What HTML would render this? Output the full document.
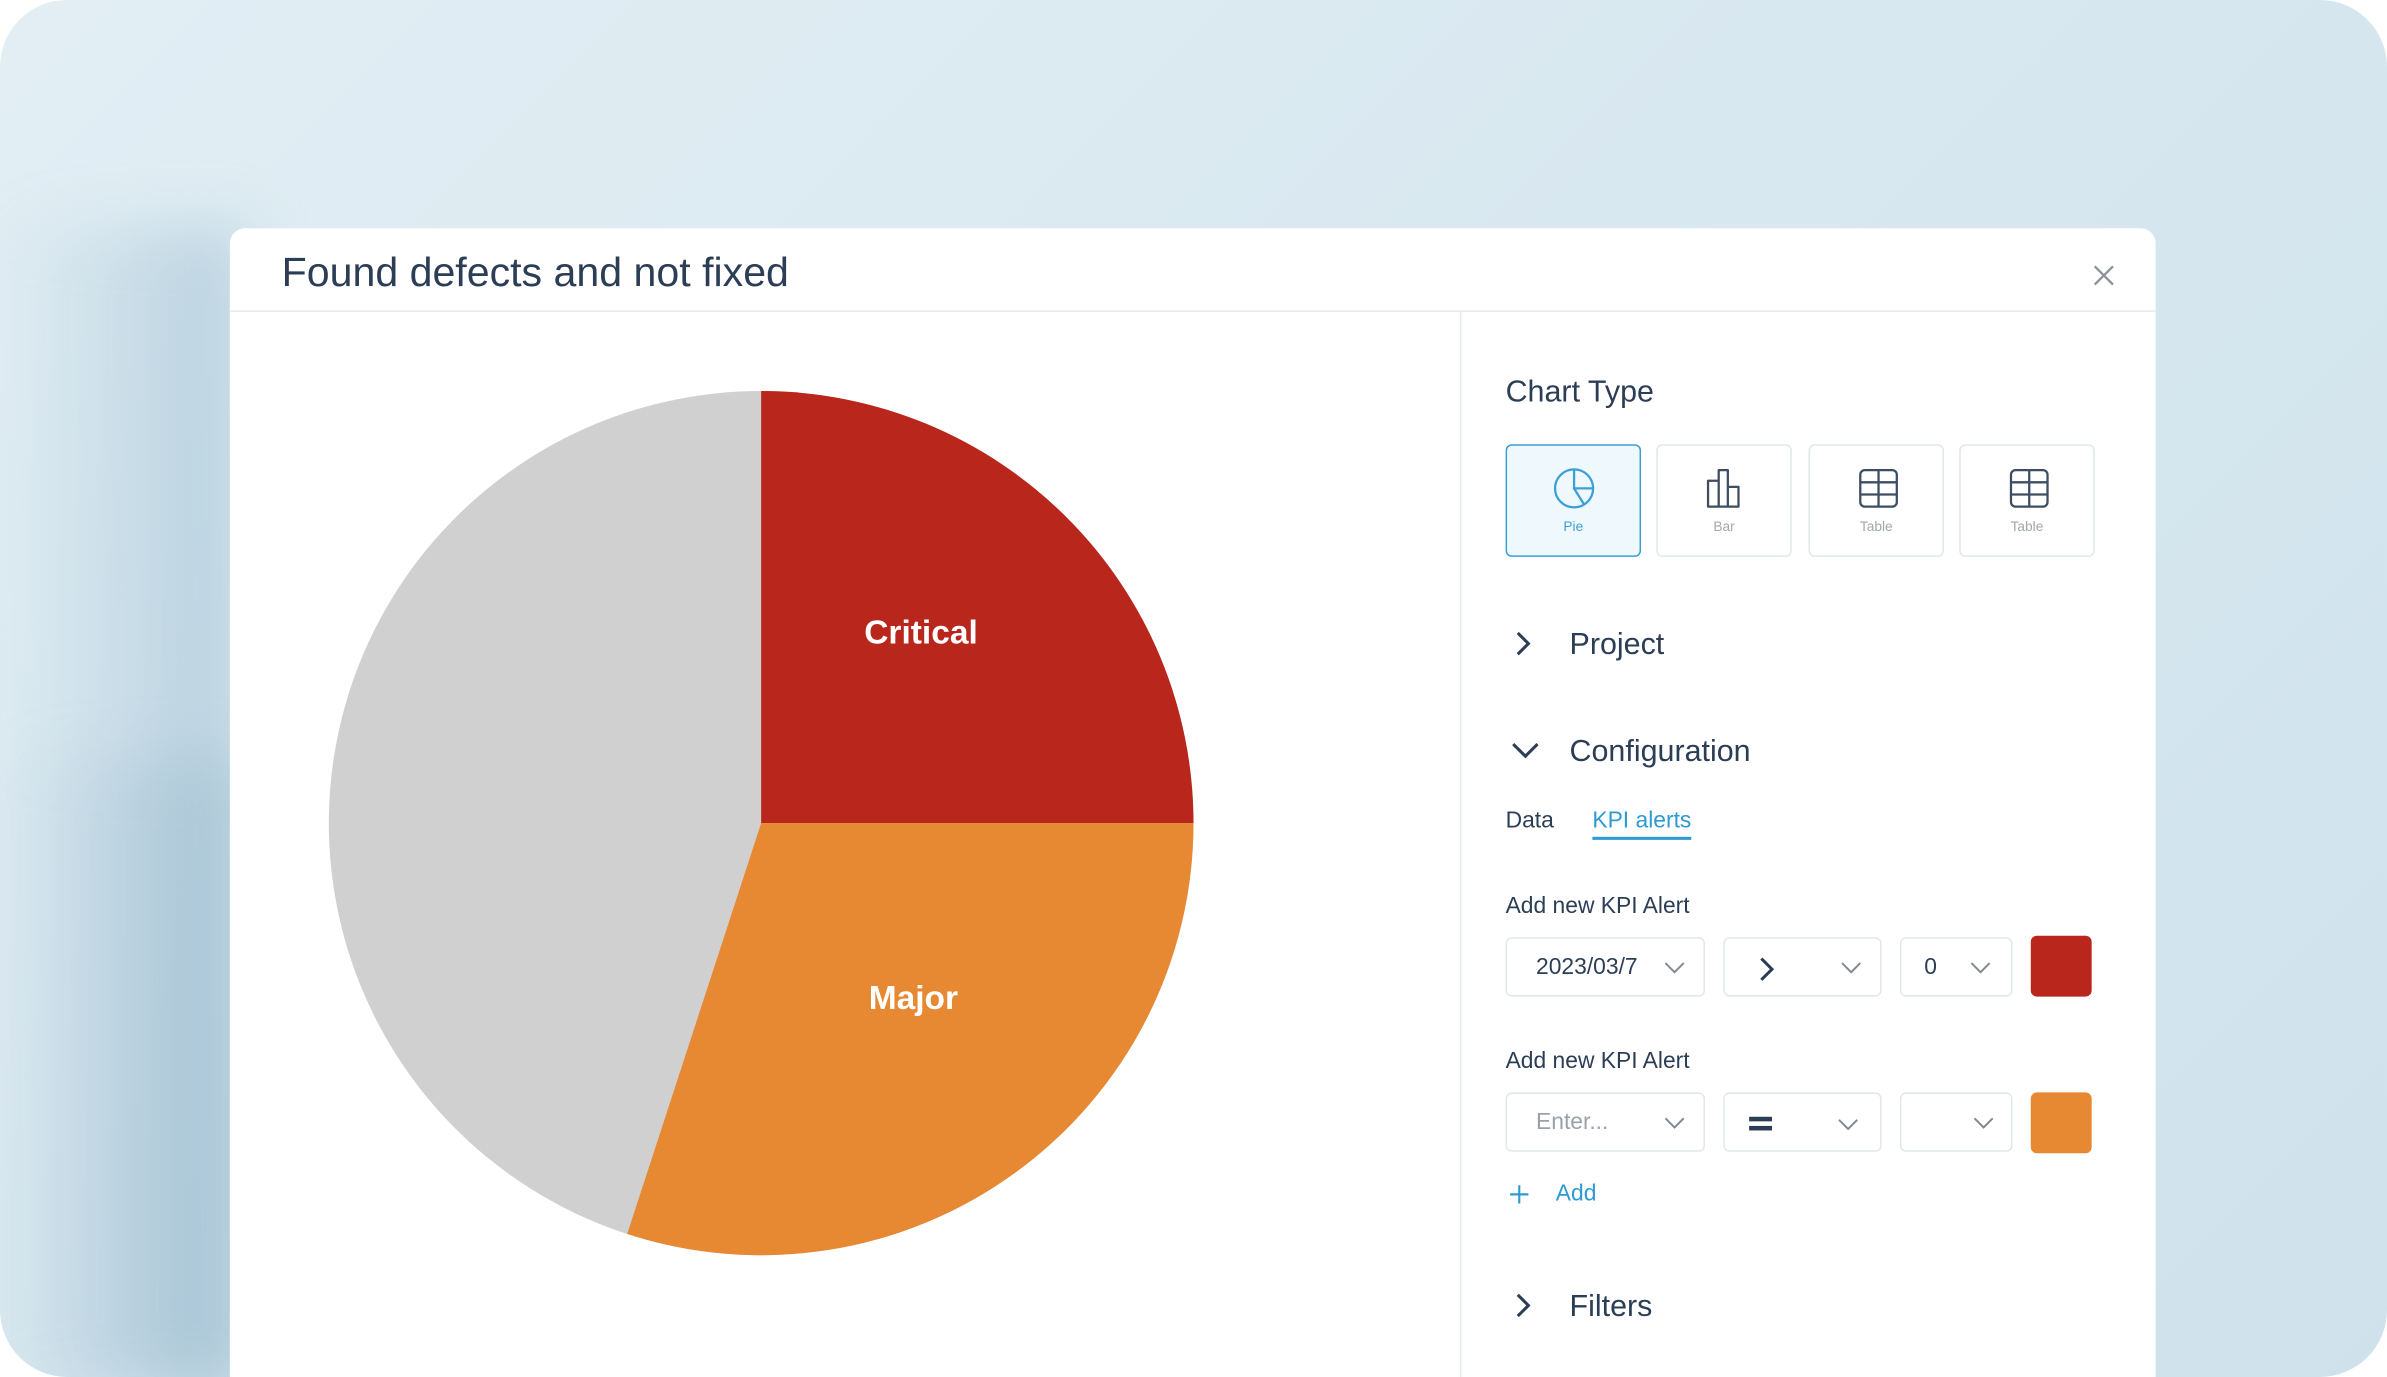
<!DOCTYPE html>
<html><head><meta charset="utf-8"><style>
html,body{margin:0;padding:0;background:#fff;}
body{width:2387px;height:1377px;overflow:hidden;}
#s{width:1568px;height:905px;transform:scale(1.52232,1.5215);transform-origin:0 0;position:relative;font-family:"Liberation Sans",sans-serif;color:#2c3e55;}
.bg{position:absolute;left:0;top:0;width:1568px;height:905px;border-radius:44px;overflow:hidden;background:linear-gradient(135deg,#e2eef4 0%,#d8e8f0 50%,#cfe2ec 100%);}
.sh{position:absolute;left:0;top:150px;width:160px;height:760px;background:linear-gradient(90deg,rgba(150,185,205,0) 0%,rgba(150,185,205,.55) 100%);filter:blur(20px);}
.sh2{position:absolute;left:0;top:500px;width:160px;height:420px;background:linear-gradient(90deg,rgba(140,175,198,0) 0%,rgba(140,175,198,.4) 100%);filter:blur(20px);}
.card{position:absolute;left:151px;top:150px;width:1265px;height:760px;background:#fff;border-radius:10px 10px 0 0;}
.abs{position:absolute;}
.box{position:absolute;border:1px solid #e1e7ea;border-radius:4px;background:#fff;box-sizing:border-box;}
.lbl{font-size:9px;color:#a0a7ad;position:absolute;width:100%;text-align:center;top:48px;}
.dd{position:absolute;top:14px;}
</style></head><body><div id="s">
<div class="bg"><div class="sh"></div><div class="sh2"></div>
<div class="card">
 <div class="abs" style="left:34px;top:14px;font-size:27px;color:#2c3e55;">Found defects and not fixed</div>
 <svg class="abs" style="left:1224px;top:24px" width="14" height="14"><path d="M1 1L13 13M13 1L1 13" stroke="#8a939a" stroke-width="1.5"/></svg>
 <div class="abs" style="left:0;top:54px;width:1265px;height:1px;background:#e6eaec"></div>
 <div class="abs" style="left:808px;top:55px;width:1px;height:710px;background:#e6eaec"></div>
 <svg class="abs" style="left:0;top:0" width="808" height="760">
  <g transform="translate(349,391)">
   <circle r="284" fill="#d0d0d0"/>
   <path d="M0 0L0 -284A284 284 0 0 1 284 0Z" fill="#b9261c"/>
   <path d="M0 0L284 0A284 284 0 0 1 -88 270Z" fill="#e78832"/>
   <text x="105" y="-118" font-size="22" font-weight="600" fill="#fff" text-anchor="middle" font-family="Liberation Sans">Critical</text>
   <text x="100" y="122" font-size="22" font-weight="600" fill="#fff" text-anchor="middle" font-family="Liberation Sans">Major</text>
  </g>
 </svg>
 <div class="abs" style="left:838px;top:97px;font-size:20px;">Chart Type</div>
 <div class="box" style="left:838px;top:142px;width:89px;height:74px;border:1.5px solid #3aa0d6;background:#eff8fd;">
  <svg class="abs" style="left:30px;top:14px" width="28" height="28"><circle cx="14" cy="14" r="12.5" fill="none" stroke="#3aa0d6" stroke-width="1.5"/><path d="M14 1.5V14H26.5M14 14L20.5 24.5" fill="none" stroke="#3aa0d6" stroke-width="1.5"/></svg>
  <div class="lbl" style="color:#3aa0d6">Pie</div></div>
 <div class="box" style="left:937px;top:142px;width:89px;height:74px;">
  <svg class="abs" style="left:31px;top:14px" width="28" height="28"><path d="M2 9H9V26H2ZM9 2H15V26H9ZM15 13H22V26H15Z" fill="none" stroke="#3d4e63" stroke-width="1.5" stroke-linejoin="round"/></svg>
  <div class="lbl">Bar</div></div>
 <div class="box" style="left:1037px;top:142px;width:89px;height:74px;">
  <svg class="abs" style="left:31px;top:14px" width="28" height="28"><rect x="2" y="2" width="24" height="24" rx="3" fill="none" stroke="#3d4e63" stroke-width="1.5"/><path d="M2 10H26M2 18H26M14 2V26" stroke="#3d4e63" stroke-width="1.5"/></svg>
  <div class="lbl">Table</div></div>
 <div class="box" style="left:1136px;top:142px;width:89px;height:74px;">
  <svg class="abs" style="left:31px;top:14px" width="28" height="28"><rect x="2" y="2" width="24" height="24" rx="3" fill="none" stroke="#3d4e63" stroke-width="1.5"/><path d="M2 10H26M2 18H26M14 2V26" stroke="#3d4e63" stroke-width="1.5"/></svg>
  <div class="lbl">Table</div></div>
 <svg class="abs" style="left:843px;top:264px" width="14" height="18"><path d="M3 2L10 9L3 16" fill="none" stroke="#2c3e55" stroke-width="2"/></svg>
 <div class="abs" style="left:880px;top:263px;font-size:20px;">Project</div>
 <svg class="abs" style="left:841px;top:336px" width="20" height="14"><path d="M2 3L10 11L18 3" fill="none" stroke="#2c3e55" stroke-width="2"/></svg>
 <div class="abs" style="left:880px;top:333px;font-size:20px;">Configuration</div>
 <div class="abs" style="left:838px;top:381px;font-size:15px;">Data</div>
 <div class="abs" style="left:895px;top:381px;font-size:15px;color:#2d9ad2;">KPI alerts</div>
 <div class="abs" style="left:895px;top:400px;width:65px;height:2px;background:#2d9ad2"></div>
 <div class="abs" style="left:838px;top:437px;font-size:15px;">Add new KPI Alert</div>
 <div class="box" style="left:838px;top:466px;width:131px;height:39px;"><div class="abs" style="left:19px;top:10px;font-size:15px;">2023/03/7</div><svg class="dd" style="left:103px" width="14" height="10"><path d="M1 2L7 8L13 2" fill="none" stroke="#7f8a93" stroke-width="1.3"/></svg></div>
 <div class="box" style="left:981px;top:466px;width:104px;height:39px;"><svg class="abs" style="left:22px;top:11px" width="12" height="18"><path d="M2 2L9 9L2 16" fill="none" stroke="#2c3e55" stroke-width="2"/></svg><svg class="dd" style="left:76px" width="14" height="10"><path d="M1 2L7 8L13 2" fill="none" stroke="#7f8a93" stroke-width="1.3"/></svg></div>
 <div class="box" style="left:1097px;top:466px;width:74px;height:39px;"><div class="abs" style="left:15px;top:10px;font-size:15px;">0</div><svg class="dd" style="left:45px" width="14" height="10"><path d="M1 2L7 8L13 2" fill="none" stroke="#7f8a93" stroke-width="1.3"/></svg></div>
 <div class="abs" style="left:1183px;top:465px;width:40px;height:40px;border-radius:4px;background:#b9261c"></div>
 <div class="abs" style="left:838px;top:539px;font-size:15px;">Add new KPI Alert</div>
 <div class="box" style="left:838px;top:568px;width:131px;height:39px;"><div class="abs" style="left:19px;top:10px;font-size:15px;color:#9aa2a9">Enter...</div><svg class="dd" style="left:103px" width="14" height="10"><path d="M1 2L7 8L13 2" fill="none" stroke="#7f8a93" stroke-width="1.3"/></svg></div>
 <div class="box" style="left:981px;top:568px;width:104px;height:39px;"><div class="abs" style="left:16px;top:15px;width:15px;height:2.5px;background:#2c3e55"></div><div class="abs" style="left:16px;top:21px;width:15px;height:2.5px;background:#2c3e55"></div><svg class="dd" style="left:74px;top:15px" width="14" height="10"><path d="M1 2L7 8L13 2" fill="none" stroke="#7f8a93" stroke-width="1.3"/></svg></div>
 <div class="box" style="left:1097px;top:568px;width:74px;height:39px;"><svg class="dd" style="left:47px" width="14" height="10"><path d="M1 2L7 8L13 2" fill="none" stroke="#7f8a93" stroke-width="1.3"/></svg></div>
 <div class="abs" style="left:1183px;top:568px;width:40px;height:40px;border-radius:4px;background:#e78832"></div>
 <svg class="abs" style="left:839px;top:627px" width="16" height="16"><path d="M8 2V14M2 8H14" stroke="#2d9ad2" stroke-width="1.4"/></svg>
 <div class="abs" style="left:871px;top:626px;font-size:15px;color:#2d9ad2;">Add</div>
 <svg class="abs" style="left:843px;top:699px" width="14" height="18"><path d="M3 2L10 9L3 16" fill="none" stroke="#2c3e55" stroke-width="2"/></svg>
 <div class="abs" style="left:880px;top:698px;font-size:20px;">Filters</div>
</div>
</div>
</div></body></html>
